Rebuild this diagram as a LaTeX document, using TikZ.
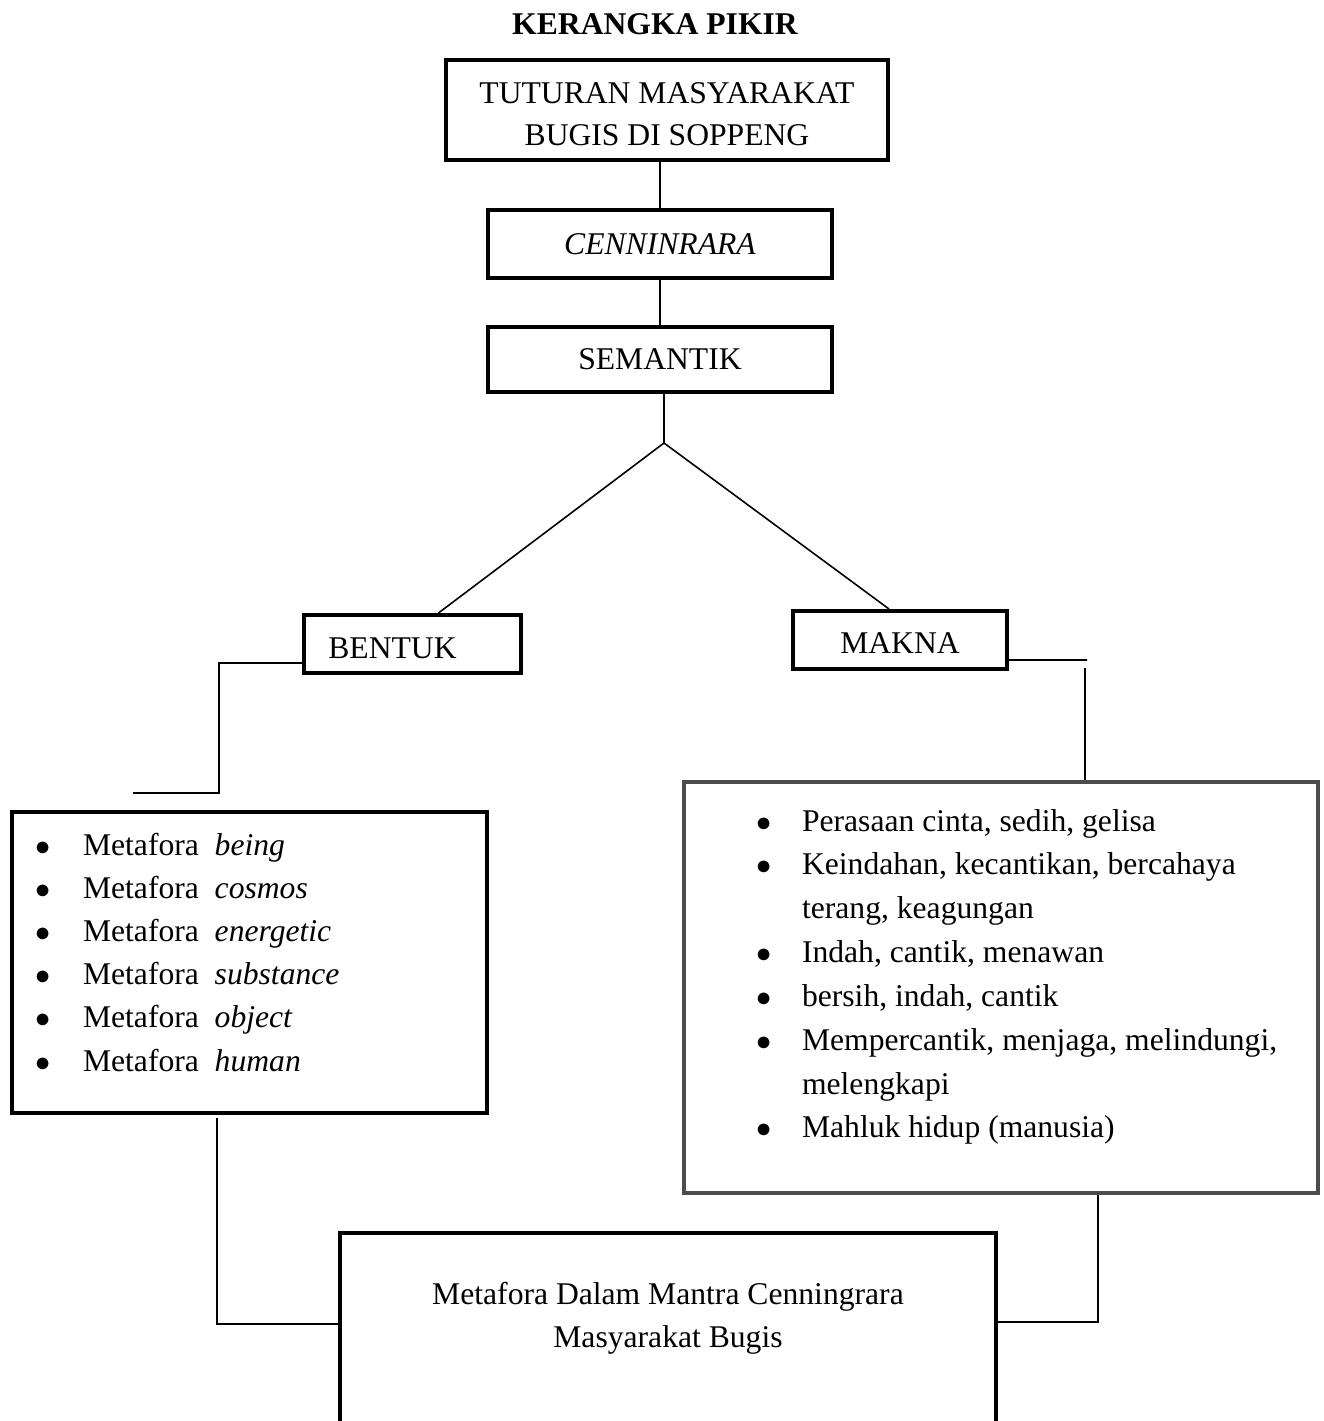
\documentclass[tikz,border=0pt]{standalone}
\usepackage{fontspec}
\setmainfont{Liberation Serif}
\usetikzlibrary{positioning}

% bullet set in a box of given width
\newcommand{\bul}[1]{\makebox[#1][l]{$\bullet$}}

\begin{document}
\begin{tikzpicture}[
    x=0.02cm, y=-0.02cm,
    % --- Styles ---
    box/.style={
        rectangle,
        draw=black,
        fill=white,
        line width=2.3pt,
        inner sep=0pt,
        align=center,
        font=\fontsize{18}{23.8}\selectfont
    },
    greybox/.style={
        box,
        draw=black!70
    },
    conn/.style={
        line width=0.9pt
    }
]
\useasboundingbox (0,0) rectangle (1324,1421);
\clip (0,0) rectangle (1324,1421);

% --- Nodes ---
\node[font=\fontsize{18}{22}\selectfont\bfseries] (title) at (655,24) {KERANGKA PIKIR};

\node[box, minimum width=8.86cm, minimum height=2cm] (tutur) at (667,110)
    {\rule{0pt}{0.6cm}TUTURAN MASYARAKAT\\BUGIS DI SOPPENG};
\node[box, minimum width=6.9cm, minimum height=1.36cm] (cenn) at (660,244)
    {\textit{CENNINRARA}};
\node[box, minimum width=6.9cm, minimum height=1.3cm] (sem) at (660,359.5)
    {SEMANTIK};

\node[box, minimum width=4.34cm, minimum height=1.16cm] (bentuk) at (412.5,644)
    {\rule{0pt}{0.6cm}BENTUK\hspace{0.8cm}};
\node[box, minimum width=4.28cm, minimum height=1.16cm] (makna) at (900,640)
    {\rule{0pt}{0.55cm}MAKNA};

\node[box] (formList) at (249.5,962.5) {\parbox[c][6.02cm][t]{9.5cm}{%
    \raggedright\fontsize{18}{24.6}\selectfont
    \hspace*{0.46cm}\rule{0pt}{0.86cm}\bul{0.96cm}Metafora\ \ \textit{being}\\
    \hspace*{0.46cm}\bul{0.96cm}Metafora\ \ \textit{cosmos}\\
    \hspace*{0.46cm}\bul{0.96cm}Metafora\ \ \textit{energetic}\\
    \hspace*{0.46cm}\bul{0.96cm}Metafora\ \ \textit{substance}\\
    \hspace*{0.46cm}\bul{0.96cm}Metafora\ \ \textit{object}\\
    \hspace*{0.46cm}\bul{0.96cm}Metafora\ \ \textit{human}}};

\node[greybox] (meaning) at (1001,987.5) {\parbox[c][8.22cm][t]{12.68cm}{%
    \raggedright\fontsize{18}{24.95}\selectfont
    \hspace*{1.44cm}\rule{0pt}{0.98cm}\bul{0.92cm}Perasaan cinta, sedih, gelisa\\
    \hspace*{1.44cm}\bul{0.92cm}Keindahan, kecantikan, bercahaya\\
    \hspace*{2.36cm}terang, keagungan\\
    \hspace*{1.44cm}\bul{0.92cm}Indah, cantik, menawan\\
    \hspace*{1.44cm}\bul{0.92cm}bersih, indah, cantik\\
    \hspace*{1.44cm}\bul{0.92cm}Mempercantik, menjaga, melindungi,\\
    \hspace*{2.36cm}melengkapi\\
    \hspace*{1.44cm}\bul{0.92cm}Mahluk hidup (manusia)}};

\node[box] (goal) at (668,1348) {\parbox[c][4.6cm][t]{13.12cm}{%
    \centering\fontsize{18}{24.9}\selectfont
    \rule{0pt}{1.42cm}Metafora Dalam Mantra Cenningrara\\
    Masyarakat Bugis}};

% --- Connectors ---
\coordinate (split) at (664,443);
\coordinate (bentukEnd) at (133,793);
\coordinate (maknaEnd) at (1087,660);
\coordinate (maknaDrop) at (1085,668);
\coordinate (formDrop) at (217,1118);
\coordinate (meaningDrop) at (1098,1195);

\draw[conn] (cenn.north) -- (cenn.north |- tutur.south);
\draw[conn] (sem.north) -- (sem.north |- cenn.south);
\draw[conn] (split |- sem.south) -- (split);
\draw[conn] (split) -- ([xshift=0.52cm]bentuk.north);
\draw[conn] (split) -- ([xshift=-0.22cm]makna.north);
\draw[conn] ([yshift=-0.38cm]bentuk.west) -| ([xshift=1.72cm]bentukEnd) -- (bentukEnd);
\draw[conn] ([yshift=-0.4cm]makna.east) -- (maknaEnd);
\draw[conn] (maknaDrop) -- (maknaDrop |- meaning.north);
\draw[conn] (formDrop) |- ([yshift=0.48cm]goal.west);
\draw[conn] (meaningDrop) |- ([yshift=0.52cm]goal.east);
\end{tikzpicture}
\end{document}
